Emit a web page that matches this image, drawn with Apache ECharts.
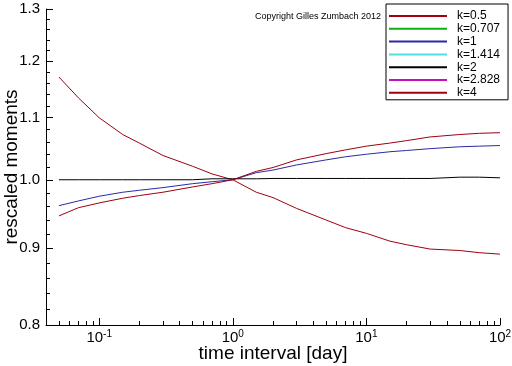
<!DOCTYPE html>
<html>
<head>
<meta charset="utf-8">
<script src="https://cdn.jsdelivr.net/npm/echarts@6/dist/echarts.min.js"></script>
<style>html,body{margin:0;padding:0;background:#fff}#c{width:512px;height:366px}</style>
</head>
<body>
<div id="c"></div>
<script>
// time interval [day]
const times = [0.05, 0.07, 0.1, 0.15, 0.2, 0.3, 0.5, 0.7, 1, 1.5, 2, 3, 5, 7, 10, 15, 20, 30, 50, 70, 100];
const k05   = [1.171, 1.134, 1.100, 1.072, 1.058, 1.038, 1.021, 1.009, 1.000, 0.981, 0.973, 0.957, 0.940, 0.929, 0.921, 0.910, 0.905, 0.899, 0.897, 0.894, 0.892];
const k0707 = [];
const k1    = [0.961, 0.968, 0.975, 0.981, 0.984, 0.988, 0.994, 0.997, 1.000, 1.011, 1.015, 1.023, 1.031, 1.036, 1.040, 1.044, 1.046, 1.049, 1.052, 1.053, 1.054];
const k1414 = [];
const k2    = [1.000, 1.000, 1.000, 1.000, 1.000, 1.000, 1.000, 1.0015, 1.0015, 1.0015, 1.002, 1.002, 1.002, 1.002, 1.002, 1.002, 1.002, 1.002, 1.004, 1.004, 1.003];
const k2828 = [];
const k4    = [0.946, 0.958, 0.965, 0.972, 0.976, 0.981, 0.989, 0.994, 1.000, 1.013, 1.019, 1.031, 1.041, 1.047, 1.053, 1.058, 1.062, 1.068, 1.072, 1.074, 1.075];
const seriesNames = ['k=0.5', 'k=0.707', 'k=1', 'k=1.414', 'k=2', 'k=2.828', 'k=4'];
const seriesValues = [k05, k0707, k1, k1414, k2, k2828, k4];
const seriesColors = ['#a00010', '#10b010', '#2a2aa8', '#50e0e0', '#000000', '#c010c0', '#a00010'];
const yMajor = [0.8, 0.9, 1.0, 1.1, 1.2, 1.3];
const yMinor = [0.82, 0.84, 0.86, 0.88, 0.92, 0.94, 0.96, 0.98, 1.02, 1.04, 1.06, 1.08, 1.12, 1.14, 1.16, 1.18, 1.22, 1.24, 1.26, 1.28];
const xMin = 0.04, xMax = 100, yMin = 0.8, yMax = 1.3;
const xDecades = [0.1, 1, 10, 100];
const xMinor = [0.04, 0.05, 0.06, 0.07, 0.08, 0.09, 0.2, 0.3, 0.4, 0.5, 0.6, 0.7, 0.8, 0.9, 2, 3, 4, 5, 6, 7, 8, 9, 20, 30, 40, 50, 60, 70, 80, 90];

const FONT = 'Liberation Sans, Arial, sans-serif';
const chart = echarts.init(document.getElementById('c'), null, {renderer: 'canvas'});
const lx = Math.log10(xMin), hx = Math.log10(xMax), ly = Math.log(yMin), hy = Math.log(yMax);

const series = seriesNames.map((n, s) => ({
  name: n, type: 'line', xAxisIndex: 0, yAxisIndex: 0,
  symbol: 'none', animation: false,
  lineStyle: {width: 1, color: seriesColors[s]},
  itemStyle: {color: seriesColors[s]},
  data: seriesValues[s].map((v, i) => [Math.log10(times[i]), Math.log(v)])
}));

chart.setOption({
  animation: false,
  backgroundColor: '#fff',
  grid: {left: 46, right: 12, top: 9, bottom: 41, containLabel: false, outerBoundsMode: 'none'},
  xAxis: [{
    type: 'value', min: lx, max: hx, position: 'bottom',
    name: 'time interval [day]', nameLocation: 'middle', nameGap: 19, nameMoveOverlap: false,
    nameTextStyle: {fontSize: 19, color: '#000', fontFamily: FONT},
    axisLine: {show: true, onZero: false, lineStyle: {color: '#000', width: 1}},
    axisTick: {show: true, inside: true, length: 7, lineStyle: {color: '#000'}, customValues: xDecades.map(Math.log10)},
    axisLabel: {
      customValues: xDecades.map(Math.log10), margin: 4,
      formatter: v => '{b|10}{s|' + Math.round(v) + '}',
      rich: {
        b: {fontSize: 15, color: '#000', fontFamily: FONT},
        s: {fontSize: 10, color: '#000', fontFamily: FONT, padding: [0, 0, 8, 0]}
      }
    },
    splitLine: {show: false}
  }, {
    type: 'value', min: lx, max: hx, position: 'bottom', offset: 0,
    axisLine: {show: false, onZero: false},
    axisTick: {show: true, inside: true, length: 4, lineStyle: {color: '#000'}, customValues: xMinor.map(Math.log10)},
    axisLabel: {show: false},
    splitLine: {show: false}
  }],
  yAxis: [{
    type: 'value', min: ly, max: hy, position: 'left',
    name: 'rescaled moments', nameLocation: 'middle', nameGap: 25, nameMoveOverlap: false,
    nameTextStyle: {fontSize: 19, color: '#000', fontFamily: FONT},
    axisLine: {show: true, onZero: false, lineStyle: {color: '#000', width: 1}},
    axisTick: {show: true, inside: true, length: 7, lineStyle: {color: '#000'}, customValues: yMajor.map(Math.log)},
    axisLabel: {
      customValues: yMajor.map(Math.log), margin: 6,
      formatter: v => Math.exp(v).toFixed(1),
      fontSize: 15, color: '#000', fontFamily: FONT
    },
    splitLine: {show: false}
  }, {
    type: 'value', min: ly, max: hy, position: 'left', offset: 0,
    axisLine: {show: false, onZero: false},
    axisTick: {show: true, inside: true, length: 4, lineStyle: {color: '#000'}, customValues: yMinor.map(Math.log)},
    axisLabel: {show: false},
    splitLine: {show: false}
  }],
  legend: {
    orient: 'vertical', left: 386, top: 4,
    data: seriesNames,
    itemWidth: 58, itemHeight: 12, itemGap: 0.8,
    padding: [6, 8, 1, 2],
    itemStyle: {opacity: 0},
    backgroundColor: '#fff', borderColor: '#000', borderWidth: 1,
    textStyle: {fontSize: 12, color: '#000', fontFamily: FONT, lineHeight: 12, padding: [0, 0, 0, 5]},
    selectedMode: false
  },
  graphic: [{
    type: 'text', left: 255, top: 12,
    style: {text: 'Copyright Gilles Zumbach 2012', fontSize: 9, fill: '#000', fontFamily: FONT}
  }],
  series: series
});
</script>
</body>
</html>
